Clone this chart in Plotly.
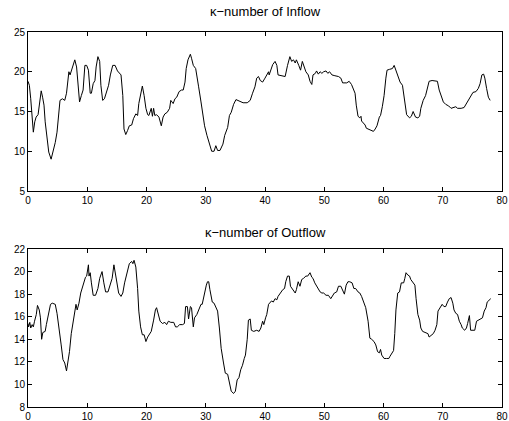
import plotly.graph_objects as go

inflow_t = [0.0, 0.23, 0.46, 0.74, 0.9, 1.14, 1.37, 1.7, 1.94, 2.23, 2.46, 2.7, 2.9, 3.2, 3.5, 3.9, 4.2, 4.6, 4.9, 5.1,
            5.4, 5.8, 6.2, 6.5, 6.9, 7.1, 7.4, 7.7, 7.9, 8.2, 8.5, 8.7, 9.0, 9.3, 9.6, 9.9, 10.2, 10.5, 10.7, 11.0,
            11.3, 11.5, 11.8, 12.1, 12.3, 12.6, 12.9, 13.3, 13.6, 13.9, 14.3, 14.7, 15.1, 15.7, 16.0, 16.2, 16.5, 16.8, 17.1, 17.5,
            17.8, 18.2, 18.5, 18.7, 19.0, 19.3, 19.6, 19.9, 20.2, 20.4, 20.8, 21.0, 21.2, 21.4, 21.7, 22.1, 22.5, 22.8, 23.1, 23.5,
            23.9, 24.1, 24.5, 24.8, 25.1, 25.5, 25.9, 26.2, 26.5, 26.7, 27.0, 27.4, 27.6, 27.9, 28.3, 28.5, 28.8, 29.2, 29.5, 29.8,
            30.2, 30.6, 31.0, 31.4, 31.7, 32.0, 32.4, 32.9, 33.2, 33.7, 34.0, 34.3, 34.7, 35.1, 35.4, 35.9, 36.3, 37.0, 37.5, 37.9,
            38.3, 38.6, 38.9, 39.2, 39.6, 40.0, 40.3, 40.6, 40.7, 41.0, 41.3, 41.7, 42.0, 42.2, 42.8, 43.4, 43.8, 44.2, 44.5, 44.8,
            45.1, 45.3, 45.7, 46.0, 46.3, 46.6, 46.9, 47.3, 47.6, 47.9, 48.1, 48.5, 48.7, 49.0, 49.3, 49.6, 49.9, 50.3, 50.6, 50.9,
            51.3, 51.8, 52.4, 52.8, 53.1, 53.8, 54.2, 54.6, 54.9, 55.2, 55.4, 55.7, 56.0, 56.2, 56.3, 56.6, 56.9, 57.1, 57.6, 58.0,
            58.3, 58.6, 58.9, 59.3, 59.5, 59.8, 60.1, 60.4, 60.6, 61.0, 61.5, 61.8, 62.1, 62.4, 62.8, 63.2, 63.5, 63.9, 64.4, 64.7,
            65.0, 65.4, 65.8, 66.1, 66.3, 66.7, 67.1, 67.4, 67.7, 68.2, 68.7, 69.1, 69.4, 69.7, 70.1, 70.5, 71.0, 71.4, 71.8, 72.2,
            72.5, 73.1, 73.6, 74.0, 74.3, 74.7, 75.1, 75.6, 76.0, 76.3, 76.6, 76.9, 77.1, 77.4, 77.7, 78.0]
inflow_k = [18.8, 18.3, 16.6, 13.7, 12.4, 13.7, 14.3, 14.6, 16.0, 17.6, 16.8, 15.8, 13.7, 11.6, 9.9, 9.0, 9.9, 11.1, 12.4, 14.5,
            16.4, 16.6, 16.4, 17.3, 20.0, 19.6, 20.4, 21.3, 21.5, 20.6, 18.1, 16.2, 17.0, 17.7, 20.8, 20.8, 20.2, 17.3, 17.3, 18.5,
            18.9, 20.6, 21.9, 21.3, 18.3, 16.4, 16.6, 17.7, 18.3, 19.6, 20.8, 20.8, 20.1, 19.6, 17.0, 12.8, 12.1, 12.6, 13.2, 13.3,
            14.1, 14.7, 14.5, 16.0, 17.3, 18.2, 17.0, 15.4, 14.6, 14.5, 15.4, 14.4, 15.4, 14.5, 14.6, 14.3, 13.2, 14.3, 14.7, 14.9,
            15.4, 16.4, 16.0, 16.6, 16.8, 17.5, 17.7, 17.7, 18.7, 20.4, 21.5, 22.2, 21.7, 20.8, 20.4, 19.6, 18.1, 16.2, 14.7, 13.2,
            12.0, 10.9, 10.0, 10.0, 10.7, 10.1, 10.1, 10.9, 12.0, 13.0, 14.5, 14.9, 15.9, 16.5, 16.4, 16.2, 16.1, 16.1, 16.4, 17.3,
            18.1, 19.2, 19.4, 18.9, 18.7, 19.2, 19.6, 20.0, 19.6, 20.2, 20.9, 21.3, 20.8, 19.6, 19.5, 19.4, 20.8, 21.9, 21.3, 21.5,
            21.1, 21.5, 20.8, 20.2, 21.3, 20.5, 20.0, 19.6, 18.8, 18.4, 19.6, 19.8, 20.1, 19.7, 20.0, 19.8, 20.0, 20.1, 19.8, 20.0,
            19.6, 19.5, 19.4, 19.2, 18.6, 18.6, 18.8, 18.4, 17.9, 17.3, 15.8, 14.4, 14.2, 14.4, 13.8, 13.5, 13.3, 12.9, 12.7, 12.6,
            12.5, 12.8, 13.2, 14.3, 14.5, 15.6, 17.0, 19.2, 20.2, 20.3, 20.4, 20.8, 20.2, 19.4, 18.7, 18.3, 16.4, 14.6, 14.2, 14.4,
            15.0, 14.3, 14.2, 14.4, 15.4, 16.4, 17.0, 18.0, 18.8, 18.9, 18.8, 18.8, 17.7, 17.0, 16.2, 15.9, 15.7, 15.4, 15.5, 15.6,
            15.4, 15.4, 15.5, 16.0, 16.4, 17.0, 17.4, 17.5, 17.9, 18.5, 19.6, 19.7, 19.2, 17.9, 16.8, 16.4]

outflow_t = [0.0, 0.1, 0.3, 0.46, 0.7, 0.9, 1.1, 1.4, 1.6, 1.9, 2.1, 2.3, 2.5, 2.9, 3.1, 3.4, 3.8, 4.1, 4.6, 4.9,
             5.1, 5.4, 5.6, 5.9, 6.2, 6.5, 6.7, 7.0, 7.3, 7.7, 7.9, 8.1, 8.3, 8.6, 8.9, 9.1, 9.4, 9.7, 9.9, 10.2,
             10.3, 10.5, 10.7, 11.0, 11.4, 11.8, 12.1, 12.5, 12.8, 13.1, 13.5, 13.8, 14.2, 14.5, 14.7, 15.0, 15.3, 15.7, 16.0, 16.3,
             16.7, 17.1, 17.5, 17.7, 17.9, 18.2, 18.5, 18.7, 19.0, 19.3, 19.6, 19.9, 20.2, 20.5, 20.8, 21.2, 21.5, 21.7, 22.0, 22.3,
             22.7, 23.1, 23.4, 23.7, 24.1, 24.6, 24.9, 25.2, 25.6, 26.1, 26.4, 26.6, 26.9, 27.1, 27.4, 27.6, 27.9, 28.1, 28.5, 28.8,
             29.2, 29.4, 29.7, 30.1, 30.3, 30.5, 30.7, 31.1, 31.4, 31.7, 32.0, 32.3, 32.6, 33.0, 33.3, 33.7, 34.0, 34.3, 34.7, 35.0,
             35.3, 35.6, 35.9, 36.2, 36.5, 36.7, 37.0, 37.2, 37.5, 37.7, 38.1, 38.6, 39.0, 39.3, 39.6, 39.8, 40.1, 40.3, 40.6, 40.8,
             41.1, 41.4, 41.7, 42.0, 42.2, 42.6, 43.0, 43.3, 43.5, 43.8, 44.1, 44.3, 44.7, 45.1, 45.3, 45.6, 45.9, 46.2, 46.5, 46.9,
             47.2, 47.6, 47.9, 48.1, 48.4, 48.7, 49.0, 49.3, 49.6, 49.9, 50.3, 50.7, 51.1, 51.4, 51.7, 52.1, 52.4, 52.8, 53.1, 53.4,
             53.7, 54.0, 54.3, 54.7, 55.0, 55.3, 55.7, 56.0, 56.3, 56.7, 57.0, 57.4, 57.7, 58.0, 58.4, 58.7, 59.0, 59.3, 59.5, 59.7,
             60.1, 60.5, 60.9, 61.1, 61.5, 61.7, 61.9, 62.1, 62.4, 62.7, 63.0, 63.4, 63.6, 63.8, 64.1, 64.4, 64.6, 65.0, 65.3, 65.5,
             65.8, 66.1, 66.3, 66.6, 67.1, 67.5, 67.7, 68.1, 68.4, 68.7, 69.0, 69.2, 69.5, 69.9, 70.2, 70.5, 70.8, 71.1, 71.4, 71.7,
             71.9, 72.2, 72.5, 72.8, 73.1, 73.3, 73.7, 74.0, 74.2, 74.5, 74.7, 75.0, 75.4, 75.7, 76.0, 76.4, 76.7, 77.0, 77.3, 77.5,
             77.8, 78.1]
outflow_k = [15.4, 15.1, 15.5, 15.0, 15.3, 15.1, 15.6, 16.2, 17.0, 16.6, 15.9, 14.0, 14.6, 14.7, 15.3, 16.2, 17.1, 17.2, 17.1, 16.3,
             15.6, 14.4, 13.5, 12.2, 11.9, 11.2, 11.9, 12.9, 14.5, 15.7, 16.2, 17.1, 16.6, 17.2, 18.1, 18.5, 19.1, 19.5, 19.6, 20.6,
             19.6, 19.9, 19.0, 17.9, 17.9, 18.5, 19.4, 20.0, 19.0, 18.2, 18.2, 18.8, 19.4, 20.6, 19.9, 19.0, 18.1, 17.8, 18.1, 19.0,
             20.0, 20.7, 20.9, 20.7, 21.0, 20.4, 18.5, 16.5, 15.1, 14.4, 14.4, 13.8, 14.2, 14.5, 14.7, 15.7, 16.6, 16.8, 16.2, 15.6,
             15.4, 15.5, 15.3, 15.6, 15.5, 15.5, 15.1, 15.1, 15.3, 15.3, 15.4, 16.9, 16.9, 15.8, 16.9, 16.8, 15.1, 15.9, 16.2, 16.6,
             17.1, 17.1, 17.9, 18.8, 19.1, 19.1, 18.4, 17.3, 17.2, 16.9, 16.5, 15.0, 13.2, 11.9, 11.0, 10.9, 10.1, 9.4, 9.2, 9.4,
             10.4, 10.6, 11.3, 11.7, 12.3, 12.6, 14.0, 15.7, 15.8, 14.8, 14.7, 14.8, 14.7, 15.0, 15.6, 15.3, 15.9, 16.2, 17.1, 17.2,
             17.4, 17.3, 17.6, 17.5, 17.8, 18.1, 18.4, 18.5, 19.1, 19.6, 19.6, 18.7, 18.4, 18.1, 18.4, 19.1, 18.7, 19.3, 19.4, 19.6,
             19.6, 19.9, 19.5, 19.4, 19.0, 18.7, 18.5, 18.2, 18.1, 18.1, 17.9, 17.9, 17.6, 17.8, 18.1, 18.2, 18.7, 18.7, 18.4, 18.0,
             18.8, 19.1, 19.1, 19.0, 18.5, 18.5, 18.2, 18.1, 17.8, 17.3, 16.8, 15.6, 14.1, 14.0, 13.8, 13.5, 12.9, 12.8, 13.1, 12.6,
             12.3, 12.3, 12.3, 12.5, 12.9, 13.0, 14.5, 16.6, 18.1, 18.2, 19.0, 19.0, 19.4, 19.9, 19.7, 19.6, 19.3, 19.0, 18.8, 17.6,
             16.2, 15.7, 15.0, 14.7, 14.6, 14.5, 14.2, 14.4, 14.5, 14.8, 15.3, 16.5, 16.8, 17.1, 16.9, 16.9, 17.3, 17.6, 17.7, 17.2,
             16.6, 16.3, 16.2, 15.6, 15.3, 15.0, 14.8, 15.0, 15.4, 16.1, 14.8, 14.8, 14.8, 15.6, 15.7, 15.8, 15.9, 16.5, 16.8, 17.3,
             17.5, 17.6]

titles = ["\u03ba\u2212number of Inflow", "\u03ba\u2212number of Outflow"]
x_ticks = [0, 10, 20, 30, 40, 50, 60, 70, 80]
y1_ticks = [5, 10, 15, 20, 25]
y2_ticks = [8, 10, 12, 14, 16, 18, 20, 22]

FONT = "Liberation Sans, Arial, Helvetica, sans-serif"

fig = go.Figure()
fig.add_trace(go.Scatter(x=inflow_t, y=inflow_k, mode="lines",
                         line=dict(color="black", width=1), xaxis="x", yaxis="y", showlegend=False))
fig.add_trace(go.Scatter(x=outflow_t, y=outflow_k, mode="lines",
                         line=dict(color="black", width=1), xaxis="x2", yaxis="y2", showlegend=False))

axis_common = dict(showline=True, linecolor="black", linewidth=1, mirror="ticks",
                   ticks="inside", ticklen=4, tickwidth=1, tickcolor="black",
                   showgrid=False, zeroline=False, ticklabeloverflow="allow", automargin=False,
                   tickfont=dict(family=FONT, size=10, color="black"))

fig.update_layout(
    width=509, height=421,
    margin=dict(l=28, r=7, t=32, b=14),
    paper_bgcolor="white", plot_bgcolor="white",
    font=dict(family=FONT, color="black"),
    xaxis=dict(domain=[0, 1], range=[0, 80], tickvals=x_ticks, anchor="y", **axis_common),
    yaxis=dict(domain=[0.576, 1], range=[5, 25], tickvals=y1_ticks, anchor="x", **axis_common),
    xaxis2=dict(domain=[0, 1], range=[0, 80], tickvals=x_ticks, anchor="y2", **axis_common),
    yaxis2=dict(domain=[0, 0.4213], range=[8, 22], tickvals=y2_ticks, anchor="x2", **axis_common),
    annotations=[
        dict(text=titles[0], xref="paper", yref="paper", x=0.5, y=1, yanchor="bottom", yshift=11,
             showarrow=False, font=dict(family=FONT, size=13, color="black")),
        dict(text=titles[1], xref="paper", yref="paper", x=0.5, y=0.4213, yanchor="bottom", yshift=7,
             showarrow=False, font=dict(family=FONT, size=13, color="black")),
    ],
)

fig.write_html("out.html")
